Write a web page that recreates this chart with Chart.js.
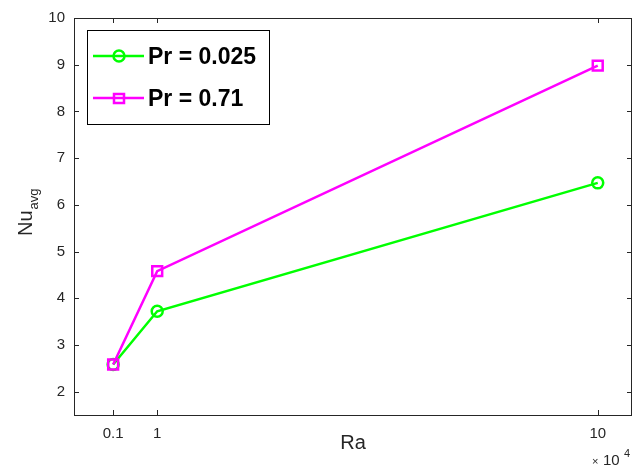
<!DOCTYPE html>
<html>
<head>
<meta charset="utf-8">
<script src="https://cdn.jsdelivr.net/npm/chart.js@4/dist/chart.umd.min.js"></script>
<style>
  body { margin: 0; background: #fff; }
  #wrap { width: 633px; height: 470px; }
</style>
</head>
<body>
<div id="wrap"><canvas id="nuChart" width="633" height="470"></canvas></div>
<script>
// Ra values (x 10^4)
const raValues = [0.1, 1, 10];
// Nu_avg for each Prandtl number
const nuPr0025 = [2.58, 3.72, 6.47];
const nuPr071 = [2.58, 4.58, 8.98];
const seriesLabels = ['Pr = 0.025', 'Pr = 0.71'];
// tick labels
const xTicks = [0.1, 1, 10];
const yTicks = [2, 3, 4, 5, 6, 7, 8, 9, 10];

const axisColor = '#262626';
const green = '#00ff00';
const magenta = '#ff00ff';
const fontFamily = '"Liberation Sans", Arial, sans-serif';

function toPoints(xs, ys) {
    return xs.map((x, i) => ({ x: x, y: ys[i] }));
}

// MATLAB-like box, inward ticks, axis titles and legend
const matlabFrame = {
    id: 'matlabFrame',
    afterDraw(chart) {
        const { ctx, chartArea: a, scales } = chart;
        const x = scales.x, y = scales.y;
        ctx.save();
        ctx.strokeStyle = axisColor;
        ctx.lineWidth = 1;
        ctx.strokeRect(a.left + 0.5, a.top + 0.5, a.right - a.left - 1, a.bottom - a.top);

        const tl = 5;
        ctx.beginPath();
        xTicks.forEach(v => {
            const px = Math.round(x.getPixelForValue(v)) + 0.5;
            ctx.moveTo(px, a.bottom); ctx.lineTo(px, a.bottom - tl);
            ctx.moveTo(px, a.top); ctx.lineTo(px, a.top + tl);
        });
        yTicks.forEach(v => {
            const py = Math.round(y.getPixelForValue(v)) + 0.5;
            ctx.moveTo(a.left, py); ctx.lineTo(a.left + tl, py);
            ctx.moveTo(a.right, py); ctx.lineTo(a.right - tl, py);
        });
        ctx.stroke();

        // axis titles
        ctx.fillStyle = axisColor;
        ctx.font = '20px ' + fontFamily;
        ctx.textAlign = 'center';
        ctx.textBaseline = 'alphabetic';
        ctx.fillText('Ra', (a.left + a.right) / 2, 449);

        ctx.save();
        ctx.translate(32, 236);
        ctx.rotate(-Math.PI / 2);
        ctx.textAlign = 'left';
        ctx.fillText('Nu', 0, 0);
        const nuW = ctx.measureText('Nu').width;
        ctx.font = '13px ' + fontFamily;
        ctx.fillText('avg', nuW + 1, 6);
        ctx.restore();

        // exponent
        ctx.textAlign = 'left';
        ctx.font = '11px ' + fontFamily;
        ctx.fillText('\u00d7', 592, 465);
        ctx.font = '15px ' + fontFamily;
        ctx.fillText('10', 603, 465);
        ctx.font = '11px ' + fontFamily;
        ctx.fillText('4', 624, 457);

        // legend
        const lx = 87, ly = 30, lw = 182, lh = 94;
        ctx.fillStyle = '#fff';
        ctx.fillRect(lx, ly, lw, lh);
        ctx.strokeStyle = '#000';
        ctx.lineWidth = 1;
        ctx.strokeRect(lx + 0.5, ly + 0.5, lw, lh);

        const rows = [
            { y: 56, color: green, label: seriesLabels[0], style: 'circle' },
            { y: 98, color: magenta, label: seriesLabels[1], style: 'rect' }
        ];
        rows.forEach(r => {
            ctx.strokeStyle = r.color;
            ctx.lineWidth = 2.5;
            ctx.beginPath();
            ctx.moveTo(93, r.y); ctx.lineTo(144, r.y);
            ctx.stroke();
            ctx.beginPath();
            if (r.style === 'circle') {
                ctx.arc(119, r.y, 5.5, 0, Math.PI * 2);
            } else {
                ctx.rect(114, r.y - 4, 10, 9);
            }
            ctx.stroke();
            ctx.fillStyle = '#000';
            ctx.font = 'bold 23px ' + fontFamily;
            ctx.textBaseline = 'middle';
            ctx.fillText(r.label, 148, r.y + 2);
        });
        ctx.restore();
    }
};

const ctx = document.getElementById('nuChart').getContext('2d');

new Chart(ctx, {
    type: 'scatter',
    data: {
        datasets: [
            {
                label: seriesLabels[0],
                data: toPoints(raValues, nuPr0025),
                showLine: true,
                borderColor: green,
                backgroundColor: 'transparent',
                pointBorderColor: green,
                borderWidth: 2.5,
                pointBorderWidth: 2.5,
                pointStyle: 'circle',
                pointRadius: 5.5,
                order: 1
            },
            {
                label: seriesLabels[1],
                data: toPoints(raValues, nuPr071),
                showLine: true,
                borderColor: magenta,
                backgroundColor: 'transparent',
                pointBorderColor: magenta,
                borderWidth: 2.5,
                pointBorderWidth: 2.5,
                pointStyle: 'rect',
                pointRadius: 7,
                order: 0
            }
        ]
    },
    options: {
        responsive: false,
        animation: false,
        layout: { autoPadding: false, padding: { top: 18, right: 1, left: 0, bottom: 0 } },
        plugins: {
            legend: { display: false },
            tooltip: { enabled: false }
        },
        scales: {
            x: {
                type: 'linear',
                min: -0.7,
                max: 10.7,
                afterBuildTicks: scale => { scale.ticks = xTicks.map(v => ({ value: v })); },
                afterFit: scale => {
                    scale.height = 55;
                    scale.paddingLeft = 0;
                    scale.paddingRight = 0;
                },
                grid: { display: false, drawTicks: false },
                border: { display: false },
                ticks: {
                    padding: 10,
                    maxRotation: 0,
                    color: axisColor,
                    font: { family: fontFamily, size: 15 },
                    callback: v => String(v)
                }
            },
            y: {
                min: 1.5,
                max: 10,
                afterBuildTicks: scale => { scale.ticks = yTicks.map(v => ({ value: v })); },
                afterFit: scale => {
                    scale.width = 74;
                    scale.paddingTop = 0;
                    scale.paddingBottom = 0;
                },
                grid: { display: false, drawTicks: false },
                border: { display: false },
                ticks: {
                    padding: 9,
                    color: axisColor,
                    font: { family: fontFamily, size: 15 }
                }
            }
        }
    },
    plugins: [matlabFrame]
});
</script>
</body>
</html>
